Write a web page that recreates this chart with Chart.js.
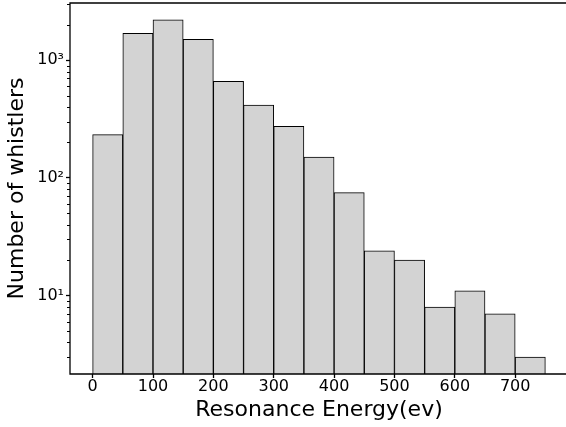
<!DOCTYPE html>
<html>
<head>
<meta charset="utf-8">
<script src="https://cdn.jsdelivr.net/npm/chart.js@4.4.0/dist/chart.umd.min.js"></script>
<style>
  html, body { margin: 0; padding: 0; background: #fff; overflow: hidden; }
  #wrap { width: 570px; height: 427px; }
</style>
</head>
<body>
<div id="wrap"><canvas id="hist"></canvas></div>
<script>
// histogram bins (left edges, width 50 ev) and counts
const binStarts = [0, 50, 100, 150, 200, 250, 300, 350, 400, 450, 500, 550, 600, 650, 700];
const binWidth = 50;
const counts = [233, 1690, 2200, 1500, 660, 415, 274, 150, 75, 24, 20, 8, 11, 7, 3];
const xTicks = [0, 100, 200, 300, 400, 500, 600, 700];
const yMajor = [10, 100, 1000];
const yMajorLabels = ['10¹', '10²', '10³'];

const points = binStarts.map((s, i) => ({ x: s + binWidth / 2, y: counts[i] }));

// minor tick positions for the log axis (2..9 x each decade)
const yMinor = [];
[1, 10, 100, 1000].forEach(d => {
    for (let k = 2; k <= 9; k++) yMinor.push(k * d);
});

const minorTicks = {
    id: 'minorTicks',
    afterDraw(chart) {
        const y = chart.scales.y;
        const ctx = chart.ctx;
        const a = chart.chartArea;
        ctx.save();
        ctx.strokeStyle = '#000';
        ctx.lineWidth = 1;
        yMinor.forEach(v => {
            if (v < y.min || v > y.max) return;
            const py = Math.round(y.getPixelForValue(v)) + 0.5;
            ctx.beginPath();
            ctx.moveTo(a.left - 3, py);
            ctx.lineTo(a.left, py);
            ctx.stroke();
        });
        // frame (right spine falls outside the picture)
        ctx.lineWidth = 1.3;
        ctx.beginPath();
        ctx.moveTo(a.right, a.top);
        ctx.lineTo(a.left, a.top);
        ctx.lineTo(a.left, a.bottom);
        ctx.lineTo(a.right, a.bottom);
        ctx.stroke();
        ctx.restore();
    }
};

new Chart(document.getElementById('hist'), {
    type: 'bar',
    data: {
        datasets: [{
            data: points,
            backgroundColor: '#d3d3d3',
            borderColor: '#000',
            borderWidth: 1,
            borderSkipped: 'start',
            barPercentage: 1,
            categoryPercentage: 1
        }]
    },
    options: {
        responsive: true,
        maintainAspectRatio: false,
        animation: false,
        layout: { padding: { top: 3, right: 2, left: 0, bottom: 0 } },
        plugins: { legend: { display: false }, tooltip: { enabled: false } },
        scales: {
            x: {
                type: 'linear',
                offset: false,
                min: -37.5,
                max: 787.5,
                afterBuildTicks: s => { s.ticks = xTicks.map(v => ({ value: v })); },
                afterFit: s => { s.height = 53; s.paddingLeft = 0; s.paddingRight = 0; },
                grid: { offset: false, drawOnChartArea: false, tickLength: 4, tickColor: '#000', tickWidth: 1.3 },
                border: { display: false },
                ticks: {
                    color: '#000',
                    padding: -1,
                    maxRotation: 0,
                    font: { family: 'DejaVu Sans', size: 16 }
                },
                title: {
                    display: true,
                    text: 'Resonance Energy(ev)',
                    color: '#000',
                    padding: { top: 0, bottom: 4 },
                    font: { family: 'DejaVu Sans', size: 22 }
                }
            },
            y: {
                type: 'logarithmic',
                min: 2.16,
                max: 3060,
                afterBuildTicks: s => { s.ticks = yMajor.map(v => ({ value: v, major: true })); },
                afterFit: s => { s.width = 70; s.paddingTop = 0; s.paddingBottom = 0; },
                grid: { drawOnChartArea: false, tickLength: 4, tickColor: '#000', tickWidth: 1.3 },
                border: { display: false },
                ticks: {
                    color: '#000',
                    padding: 2,
                    font: { family: 'DejaVu Sans', size: 16 },
                    callback: v => yMajorLabels[yMajor.indexOf(v)]
                },
                title: {
                    display: true,
                    text: 'Number of whistlers',
                    color: '#000',
                    padding: { top: 4, bottom: 0 },
                    font: { family: 'DejaVu Sans', size: 22 }
                }
            }
        }
    },
    plugins: [minorTicks]
});
</script>
</body>
</html>
